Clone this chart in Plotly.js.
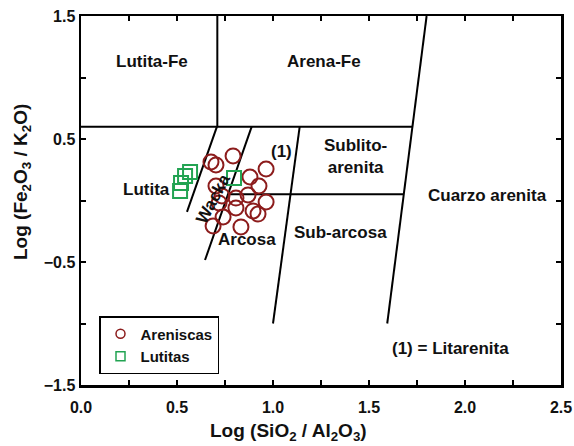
<!DOCTYPE html>
<html>
<head>
<meta charset="utf-8">
<script src="https://cdn.plot.ly/plotly-3.0.1.min.js"></script>
<style>
  html, body { margin: 0; padding: 0; background: #ffffff; }
  #chart { width: 574px; height: 446px; }
</style>
</head>
<body>
<div id="chart"></div>
<script>
// Herron (1988) classification: log(SiO2/Al2O3) vs log(Fe2O3/K2O)

// Sandstone samples (Areniscas)
const areniscasX = [0.677, 0.703, 0.792, 0.964, 0.880, 0.927, 0.703, 0.734, 0.807, 0.870,
                    0.964, 0.896, 0.922, 0.740, 0.688, 0.833, 0.807, 0.719];
const areniscasY = [0.313, 0.289, 0.362, 0.256, 0.191, 0.118, 0.118, 0.037, 0.020, 0.045,
                    -0.012, -0.085, -0.110, -0.134, -0.207, -0.215, -0.061, -0.020];

// Shale samples (Lutitas)
const lutitasX = [0.568, 0.542, 0.521, 0.516, 0.797];
const lutitasY = [0.232, 0.199, 0.142, 0.077, 0.183];

// Field boundaries (segments separated by null)
const boundaryX = [0.71, 0.71, null,     // Lutita-Fe / Arena-Fe
                   0.0, 1.726, null,     // upper horizontal
                   1.80, 1.595, null,    // Cuarzo arenita boundary
                   0.708, 0.552, null,   // Lutita / Wacka
                   0.889, 0.646, null,   // Wacka / Arcosa-Litarenita
                   1.139, 1.0, null,     // Arcosa / Sub-arcosa
                   0.766, 1.681];        // Litarenita / Arcosa split
const boundaryY = [1.5, 0.6, null,
                   0.6, 0.6, null,
                   1.5, -1.0, null,
                   0.6, -0.093, null,
                   0.6, -0.484, null,
                   0.6, -1.0, null,
                   0.05, 0.05];

// Field names
const fieldLabels = ['Lutita-Fe', 'Arena-Fe', 'Sublito-<br>arenita', 'Cuarzo arenita',
                     'Sub-arcosa', 'Arcosa', 'Lutita', '(1)', '(1) = Litarenita', 'Wacka'];
const fieldX = [0.368, 1.267, 1.431, 2.116, 1.349, 0.863, 0.342, 1.045, 1.925, 0.689];
const fieldY = [1.130, 1.134, 0.356, 0.039, -0.262, -0.321, 0.091, 0.397, -1.202, 0.018];
const fieldAngle = [0, 0, 0, 0, 0, 0, 0, 0, 0, -62];

const FONT = 'Liberation Sans, Arial, sans-serif';
const RED = '#8c1c1c';
const GREEN = '#22a352';

const traces = [
  {
    x: boundaryX, y: boundaryY, mode: 'lines', type: 'scatter',
    line: { color: '#000000', width: 2 }, showlegend: false, hoverinfo: 'skip',
    connectgaps: false
  },
  {
    x: areniscasX, y: areniscasY, mode: 'markers', type: 'scatter', name: 'Areniscas',
    marker: { symbol: 'circle-open', size: 15, color: RED, line: { color: RED, width: 2 } },
    showlegend: false
  },
  {
    x: lutitasX, y: lutitasY, mode: 'markers', type: 'scatter', name: 'Lutitas',
    marker: { symbol: 'square-open', size: 14, color: GREEN, line: { color: GREEN, width: 2 } },
    showlegend: false
  },
  // legend entries with smaller symbols
  {
    x: [null], y: [null], mode: 'markers', type: 'scatter', name: 'Areniscas',
    marker: { symbol: 'circle-open', size: 9, color: RED, line: { color: RED, width: 1.5 } }
  },
  {
    x: [null], y: [null], mode: 'markers', type: 'scatter', name: 'Lutitas',
    marker: { symbol: 'square-open', size: 9, color: GREEN, line: { color: GREEN, width: 1.5 } }
  }
];

const annotations = fieldLabels.map((t, i) => ({
  x: fieldX[i], y: fieldY[i], xref: 'x', yref: 'y',
  text: t, showarrow: false, textangle: fieldAngle[i],
  font: { family: FONT, size: 17, color: '#111111', weight: 'bold' },
  align: 'center'
}));

// Axis titles
annotations.push({
  x: (288 - 81) / 480, y: -(432 - 385) / 369, xref: 'paper', yref: 'paper',
  xanchor: 'center', yanchor: 'middle', showarrow: false,
  text: 'Log (SiO<sub>2</sub> / Al<sub>2</sub>O<sub>3</sub>)',
  font: { family: FONT, size: 19, color: '#111111', weight: 'bold' }
});
annotations.push({
  x: -(81 - 22) / 480, y: (385 - 182) / 369, xref: 'paper', yref: 'paper',
  xanchor: 'center', yanchor: 'middle', showarrow: false, textangle: -90,
  text: 'Log (Fe<sub>2</sub>O<sub>3</sub> / K<sub>2</sub>O)',
  font: { family: FONT, size: 19, color: '#111111', weight: 'bold' }
});

const axisCommon = {
  showgrid: false, zeroline: false, showline: true, linecolor: '#000000', linewidth: 2.5,
  mirror: 'allticks', ticks: 'inside', ticklen: 5, tickwidth: 2, tickcolor: '#000000',
  tickmode: 'linear', tickformat: '.1f', fixedrange: true,
  tickfont: { family: FONT, size: 16, color: '#111111', weight: 'bold' }
};

const layout = {
  width: 574, height: 446,
  margin: { l: 81, r: 13, t: 16, b: 61 },
  paper_bgcolor: '#ffffff', plot_bgcolor: '#ffffff',
  xaxis: Object.assign({}, axisCommon, {
    range: [0, 2.5], tick0: 0, dtick: 0.5, ticklabelstandoff: 6,
    minor: { tick0: 0, dtick: 0.25, ticks: 'inside', ticklen: 5, tickwidth: 2, tickcolor: '#000000' }
  }),
  yaxis: Object.assign({}, axisCommon, {
    range: [-1.5, 1.5], tick0: -1.5, dtick: 1,
    minor: { tick0: -1.5, dtick: 0.5, ticks: 'inside', ticklen: 5, tickwidth: 2, tickcolor: '#000000' }
  }),
  legend: {
    x: (99 - 81) / 480, y: (385 - 316) / 369, xanchor: 'left', yanchor: 'top',
    bgcolor: '#ffffff', bordercolor: '#000000', borderwidth: 1.5,
    font: { family: FONT, size: 15, color: '#111111', weight: 'bold' },
    tracegroupgap: 0
  },
  annotations: annotations,
  showlegend: true
};

Plotly.newPlot('chart', traces, layout, { staticPlot: true, displayModeBar: false });
</script>
</body>
</html>
